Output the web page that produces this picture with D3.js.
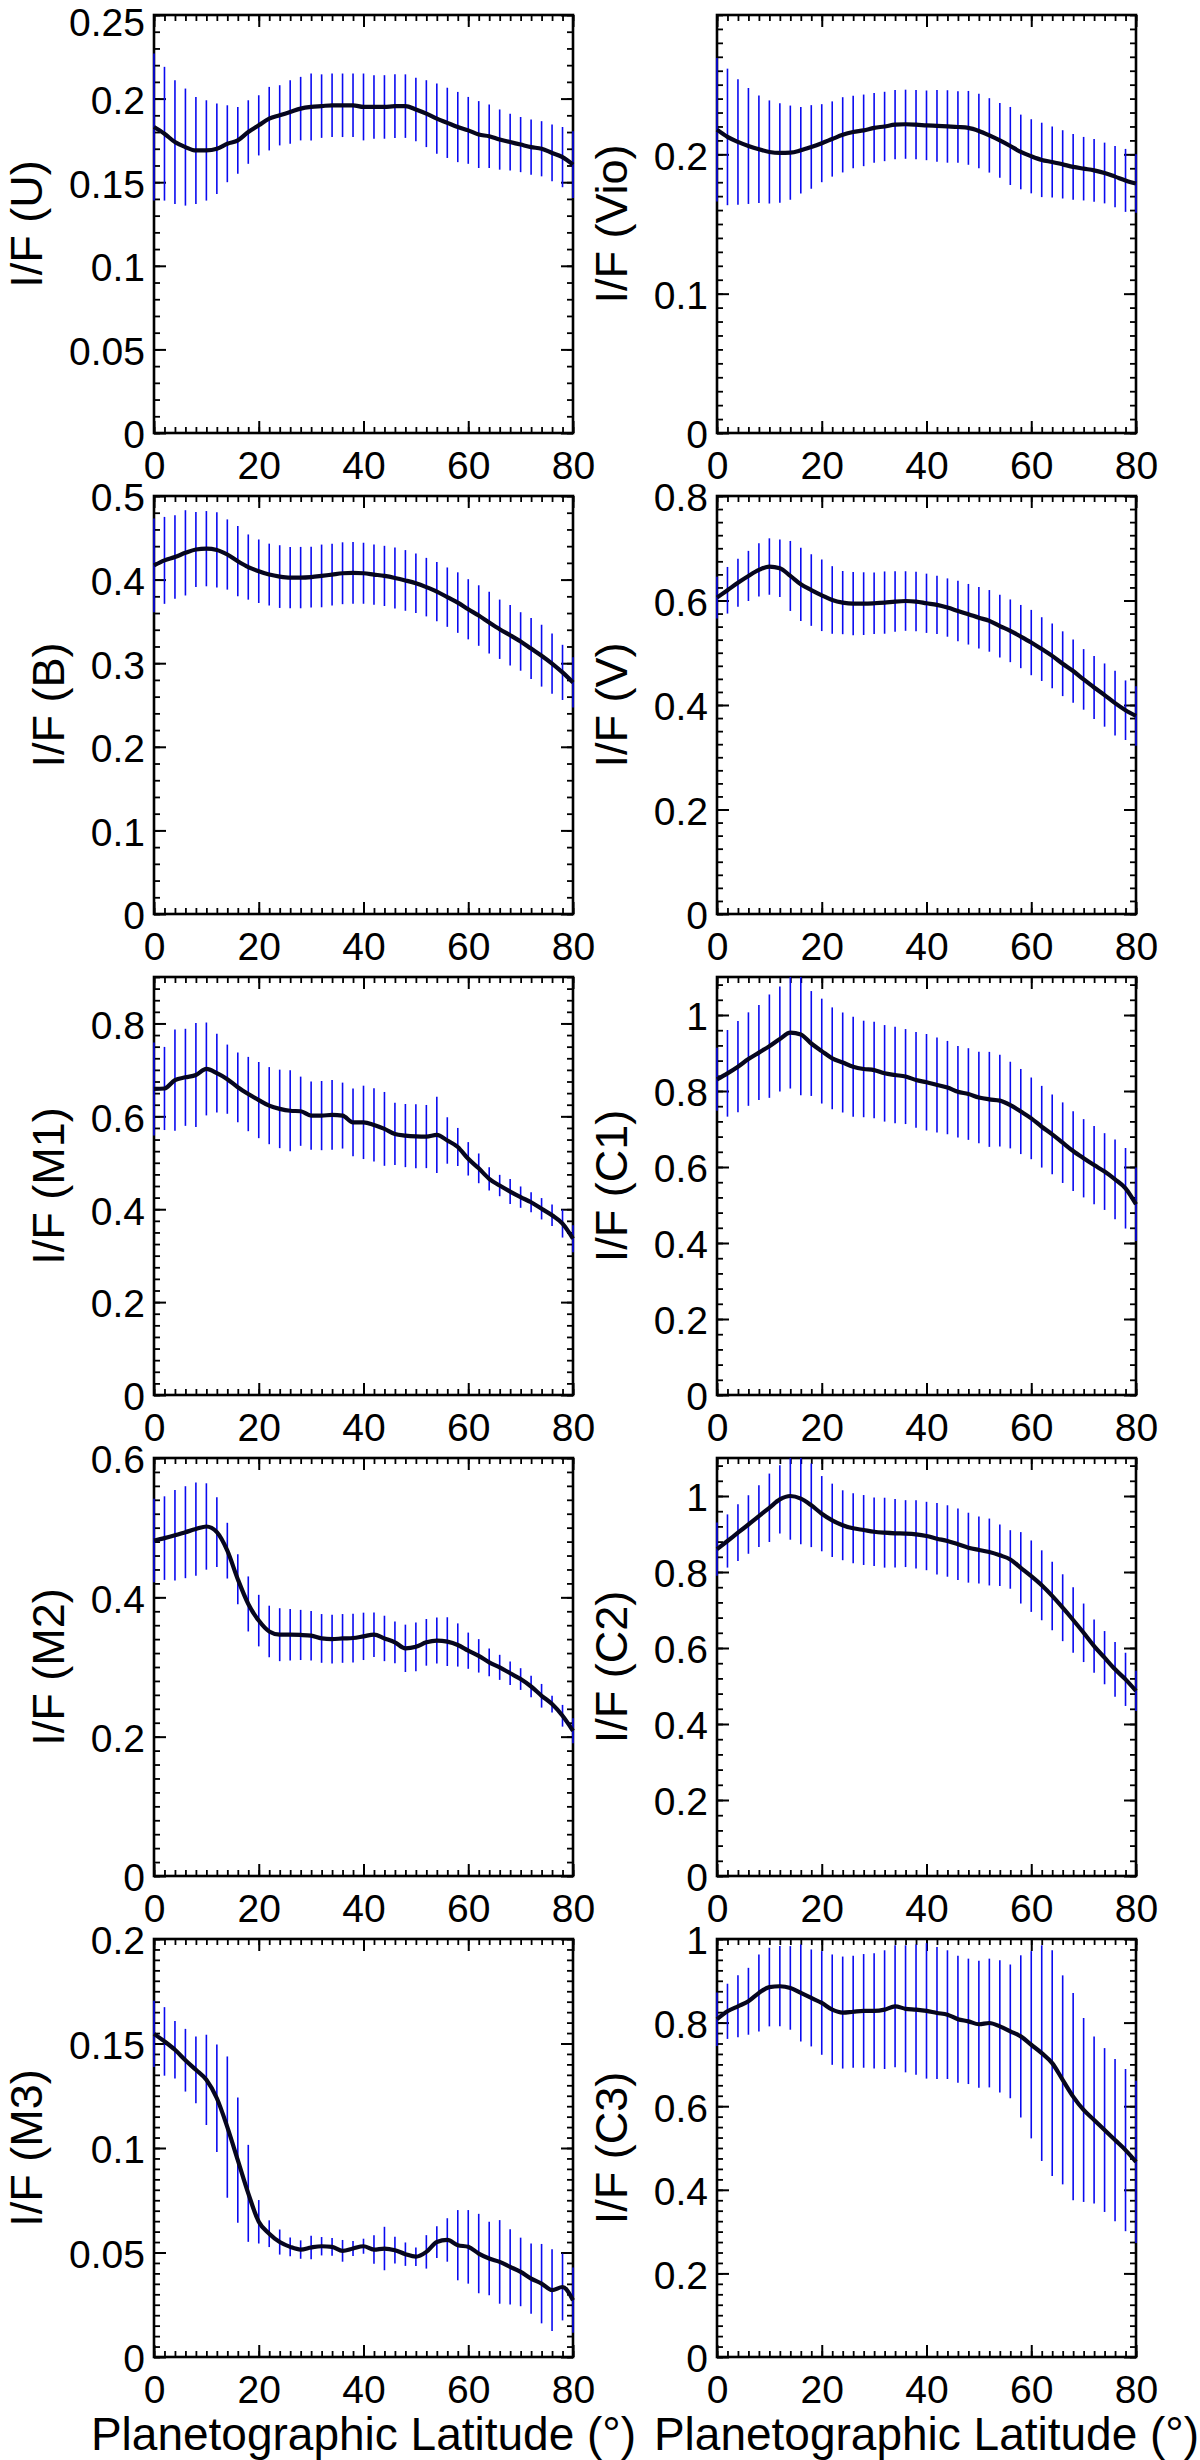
<!DOCTYPE html>
<html>
<head>
<meta charset="utf-8">
<script src="https://cdn.jsdelivr.net/npm/d3@7"></script>
<style>
  body { margin: 0; background: #fff; }
  text { font-family: "Liberation Sans", Arial, Helvetica, sans-serif; fill: #000; }
</style>
</head>
<body>
<svg id="chart"></svg>
<script>
// Latitudes of the profile samples / error bars (degrees)
var latitudes = [0, 2, 4, 6, 8, 10, 12, 14, 16, 18, 20, 22, 24, 26, 28, 30, 32, 34, 36, 38, 40,
  42, 44, 46, 48, 50, 52, 54, 56, 58, 60, 62, 64, 66, 68, 70, 72, 74, 76, 78, 80];

// I/F means and 1-sigma spreads
var uMean = [0.183, 0.179, 0.174, 0.171, 0.169, 0.169, 0.170, 0.173, 0.175, 0.180, 0.184, 0.188, 0.190, 0.192, 0.194, 0.195, 0.1955, 0.196, 0.196, 0.196, 0.195,
  0.195, 0.195, 0.1955, 0.1955, 0.1935, 0.191, 0.188, 0.1855, 0.183, 0.181, 0.1785, 0.1775, 0.1755, 0.174, 0.1725, 0.171, 0.170, 0.1675, 0.165, 0.1605];
var uErr = [0.044, 0.040, 0.037, 0.035, 0.032, 0.030, 0.027, 0.023, 0.020, 0.019, 0.018, 0.019, 0.018, 0.019, 0.019, 0.020, 0.019, 0.019, 0.019, 0.019, 0.020,
  0.019, 0.019, 0.019, 0.019, 0.019, 0.020, 0.021, 0.021, 0.021, 0.020, 0.020, 0.019, 0.018, 0.017, 0.0165, 0.0165, 0.0165, 0.017, 0.018, 0.020];

var vioMean = [0.2177, 0.2125, 0.2089, 0.206, 0.2036, 0.2017, 0.201, 0.2012, 0.2029, 0.2053, 0.208, 0.211, 0.214, 0.216, 0.2172, 0.219, 0.220, 0.2213, 0.2216, 0.2213, 0.2208,
  0.2204, 0.220, 0.2196, 0.219, 0.2168, 0.2136, 0.210, 0.206, 0.2017, 0.1986, 0.196, 0.1945, 0.1928, 0.191, 0.1897, 0.1885, 0.1866, 0.184, 0.1813, 0.179];
var vioErr = [0.0515, 0.049, 0.045, 0.0416, 0.0386, 0.037, 0.0357, 0.0338, 0.031, 0.030, 0.028, 0.027, 0.027, 0.026, 0.0257, 0.025, 0.0249, 0.0249, 0.0248, 0.0249, 0.025,
  0.0257, 0.026, 0.0257, 0.0265, 0.0267, 0.0267, 0.0268, 0.028, 0.0268, 0.0266, 0.0267, 0.0255, 0.0245, 0.0236, 0.0228, 0.0225, 0.0218, 0.0219, 0.0226, 0.021];

var bMean = [0.417, 0.423, 0.427, 0.432, 0.436, 0.437, 0.4355, 0.430, 0.422, 0.415, 0.410, 0.406, 0.4036, 0.4024, 0.4024, 0.403, 0.4044, 0.406, 0.4076, 0.408, 0.4076,
  0.406, 0.4044, 0.402, 0.399, 0.3956, 0.391, 0.3857, 0.379, 0.3725, 0.3645, 0.357, 0.3486, 0.3406, 0.3335, 0.326, 0.3175, 0.309, 0.2996, 0.289, 0.277];
var bErr = [0.056, 0.052, 0.050, 0.051, 0.045, 0.045, 0.045, 0.042, 0.042, 0.039, 0.038, 0.037, 0.0375, 0.0367, 0.0367, 0.0363, 0.0375, 0.037, 0.037, 0.037, 0.0365,
  0.036, 0.036, 0.0365, 0.0363, 0.0355, 0.035, 0.0355, 0.0355, 0.0362, 0.036, 0.0362, 0.037, 0.0355, 0.0362, 0.035, 0.0365, 0.037, 0.036, 0.033, 0.030];

var vMean = [0.6056, 0.6196, 0.634, 0.647, 0.6585, 0.665, 0.6617, 0.647, 0.631, 0.620, 0.610, 0.601, 0.596, 0.594, 0.594, 0.5947, 0.596, 0.598, 0.599, 0.598, 0.5947,
  0.5916, 0.5865, 0.580, 0.5737, 0.567, 0.561, 0.551, 0.542, 0.531, 0.5195, 0.507, 0.494, 0.479, 0.465, 0.449, 0.4335, 0.419, 0.4035, 0.390, 0.379];
var vErr = [0.040, 0.0446, 0.046, 0.048, 0.051, 0.054, 0.055, 0.067, 0.070, 0.0685, 0.0685, 0.0647, 0.0605, 0.0605, 0.060, 0.059, 0.0596, 0.058, 0.057, 0.057, 0.0567,
  0.0558, 0.0558, 0.058, 0.058, 0.059, 0.059, 0.060, 0.060, 0.0605, 0.0625, 0.061, 0.062, 0.062, 0.0605, 0.058, 0.0605, 0.0605, 0.062, 0.057, 0.057];

var m1Mean = [0.659, 0.660, 0.678, 0.684, 0.689, 0.702, 0.693, 0.680, 0.6625, 0.648, 0.635, 0.623, 0.616, 0.612, 0.611, 0.6016, 0.6016, 0.603, 0.6016, 0.587, 0.587,
  0.5815, 0.573, 0.562, 0.5586, 0.557, 0.5565, 0.560, 0.548, 0.534, 0.5085, 0.488, 0.4655, 0.451, 0.438, 0.426, 0.415, 0.401, 0.387, 0.369, 0.3366];
var m1Err = [0.100, 0.0895, 0.109, 0.1045, 0.112, 0.100, 0.085, 0.0745, 0.075, 0.080, 0.082, 0.083, 0.0845, 0.087, 0.0745, 0.0734, 0.0745, 0.075, 0.071, 0.0727, 0.079,
  0.079, 0.0795, 0.067, 0.068, 0.0688, 0.068, 0.082, 0.050, 0.041, 0.036, 0.032, 0.025, 0.023, 0.027, 0.023, 0.0215, 0.023, 0.023, 0.030, 0.029];

var c1Mean = [0.8307, 0.8465, 0.864, 0.884, 0.901, 0.918, 0.937, 0.9535, 0.949, 0.925, 0.905, 0.886, 0.875, 0.864, 0.858, 0.855, 0.8465, 0.842, 0.838, 0.829, 0.823,
  0.816, 0.809, 0.798, 0.792, 0.783, 0.778, 0.7746, 0.763, 0.746, 0.728, 0.706, 0.686, 0.664, 0.642, 0.623, 0.605, 0.588, 0.5675, 0.544, 0.502];
var c1Err = [0.083, 0.114, 0.12, 0.123, 0.125, 0.136, 0.138, 0.147, 0.16, 0.138, 0.138, 0.134, 0.1316, 0.1316, 0.127, 0.127, 0.127, 0.127, 0.125, 0.126, 0.127,
  0.125, 0.1228, 0.1206, 0.1206, 0.1206, 0.125, 0.1206, 0.114, 0.112, 0.1075, 0.1075, 0.105, 0.106, 0.105, 0.103, 0.103, 0.101, 0.105, 0.106, 0.0965];

var m2Mean = [0.4815, 0.485, 0.489, 0.4935, 0.498, 0.5017, 0.4935, 0.467, 0.426, 0.3905, 0.3666, 0.351, 0.3464, 0.3464, 0.346, 0.345, 0.341, 0.340, 0.341, 0.3416, 0.344,
  0.3464, 0.341, 0.3354, 0.3268, 0.329, 0.3354, 0.338, 0.3364, 0.3316, 0.3234, 0.316, 0.3067, 0.2995, 0.291, 0.2827, 0.272, 0.2587, 0.2468, 0.230, 0.2084];
var m2Err = [0.060, 0.060, 0.065, 0.066, 0.067, 0.062, 0.050, 0.040, 0.036, 0.0395, 0.037, 0.037, 0.038, 0.037, 0.036, 0.0355, 0.035, 0.035, 0.035, 0.035, 0.034,
  0.032, 0.0326, 0.030, 0.034, 0.035, 0.0335, 0.033, 0.035, 0.031, 0.026, 0.024, 0.020, 0.018, 0.017, 0.0156, 0.0156, 0.017, 0.012, 0.0156, 0.018];

var c2Mean = [0.86, 0.8816, 0.9035, 0.925, 0.947, 0.969, 0.991, 1.0, 0.993, 0.9755, 0.9535, 0.936, 0.923, 0.915, 0.9105, 0.906, 0.9035, 0.9018, 0.901, 0.899, 0.8947,
  0.8877, 0.8816, 0.873, 0.864, 0.858, 0.8526, 0.844, 0.833, 0.811, 0.789, 0.765, 0.737, 0.706, 0.6737, 0.640, 0.605, 0.5746, 0.544, 0.5175, 0.487];
var c2Err = [0.070, 0.070, 0.0745, 0.077, 0.081, 0.09, 0.09, 0.115, 0.12, 0.11, 0.099, 0.0965, 0.092, 0.092, 0.092, 0.09, 0.092, 0.09, 0.088, 0.09, 0.09,
  0.094, 0.094, 0.094, 0.092, 0.088, 0.088, 0.081, 0.077, 0.094, 0.094, 0.092, 0.09, 0.088, 0.086, 0.077, 0.070, 0.070, 0.072, 0.070, 0.053];

var m3Mean = [0.1546, 0.151, 0.147, 0.142, 0.1374, 0.1326, 0.1238, 0.110, 0.0942, 0.0783, 0.0647, 0.059, 0.055, 0.0527, 0.0514, 0.0524, 0.053, 0.0527, 0.0508, 0.0519, 0.053,
  0.0514, 0.0519, 0.0511, 0.0492, 0.048, 0.0503, 0.055, 0.056, 0.0535, 0.0527, 0.0495, 0.0471, 0.0455, 0.0431, 0.0407, 0.0375, 0.0351, 0.032, 0.0335, 0.0272];
var m3Err = [0.0158, 0.0164, 0.0138, 0.015, 0.016, 0.0216, 0.0257, 0.0338, 0.030, 0.0232, 0.0104, 0.0064, 0.006, 0.0045, 0.0044, 0.0056, 0.0044, 0.0042, 0.0052, 0.0036, 0.0036,
  0.0068, 0.0104, 0.0064, 0.0056, 0.0044, 0.008, 0.0076, 0.0104, 0.0168, 0.0176, 0.019, 0.0176, 0.020, 0.018, 0.0164, 0.0168, 0.019, 0.0196, 0.016, 0.0156];

var c3Mean = [0.808, 0.827, 0.839, 0.851, 0.871, 0.885, 0.887, 0.883, 0.871, 0.859, 0.847, 0.831, 0.824, 0.826, 0.828, 0.828, 0.831, 0.839, 0.833, 0.831, 0.828,
  0.823, 0.819, 0.808, 0.803, 0.796, 0.799, 0.791, 0.779, 0.767, 0.747, 0.727, 0.703, 0.663, 0.623, 0.591, 0.567, 0.543, 0.519, 0.495, 0.467];
var c3Err = [0.064, 0.066, 0.074, 0.080, 0.092, 0.094, 0.096, 0.10, 0.116, 0.116, 0.124, 0.132, 0.134, 0.134, 0.136, 0.138, 0.142, 0.146, 0.152, 0.156, 0.162,
  0.158, 0.154, 0.152, 0.150, 0.152, 0.154, 0.158, 0.16, 0.194, 0.224, 0.258, 0.27, 0.25, 0.248, 0.22, 0.20, 0.196, 0.194, 0.194, 0.194];

// Panel order: left column then right column, row by row
var filterNames = ['U', 'Vio', 'B', 'V', 'M1', 'C1', 'M2', 'C2', 'M3', 'C3'];
var panelMeans = [uMean, vioMean, bMean, vMean, m1Mean, c1Mean, m2Mean, c2Mean, m3Mean, c3Mean];
var panelErrs = [uErr, vioErr, bErr, vErr, m1Err, c1Err, m2Err, c2Err, m3Err, c3Err];

// y axis ranges, labelled ticks and minor tick step per panel
var yMaxes = [0.25, 0.3, 0.5, 0.8, 0.9, 1.1, 0.6, 1.1, 0.2, 1];
var yTickLabels = [
  [0, 0.05, 0.1, 0.15, 0.2, 0.25],
  [0, 0.1, 0.2],
  [0, 0.1, 0.2, 0.3, 0.4, 0.5],
  [0, 0.2, 0.4, 0.6, 0.8],
  [0, 0.2, 0.4, 0.6, 0.8],
  [0, 0.2, 0.4, 0.6, 0.8, 1],
  [0, 0.2, 0.4, 0.6],
  [0, 0.2, 0.4, 0.6, 0.8, 1],
  [0, 0.05, 0.1, 0.15, 0.2],
  [0, 0.2, 0.4, 0.6, 0.8, 1]
];
var yMinorSteps = [0.01, 0.01, 0.02, 0.025, 0.025, 0.04, 0.02, 0.04, 0.005, 0.025];
var xTickLabels = [0, 20, 40, 60, 80];
var xMinorStep = 2;
var xTitle = 'Planetographic Latitude (\u00b0)';

// Layout
var width = 1200, height = 2460;
var colLeft = [154, 717];
var rowTop = [15, 496, 977, 1458, 1939];
var plotW = 419, plotH = 418;

var svg = d3.select('#chart')
  .attr('width', width)
  .attr('height', height)
  .style('background', '#fff');

var fmt = function(d) { return String(+d.toFixed(4)); };

var minorRange = function(max, step) {
  var out = [];
  for (var i = 0; i * step <= max + 1e-9; i++) out.push(Math.round(i * step * 1e6) / 1e6);
  return out;
};

var styleAxis = function(sel, w) {
  sel.select('.domain').remove();
  sel.selectAll('.tick line').attr('stroke', '#000').attr('stroke-width', w);
  sel.selectAll('.tick text').style('font-size', '39px').attr('fill', '#000');
};

var drawPanel = function(i) {
  var col = i % 2, row = Math.floor(i / 2);
  var left = colLeft[col], top = rowTop[row];
  var bottom = top + plotH, right = left + plotW;

  var x = d3.scaleLinear().domain([0, 80]).range([left, right]);
  var y = d3.scaleLinear().domain([0, yMaxes[i]]).range([bottom, top]);
  var xMinor = minorRange(80, xMinorStep);
  var yMinor = minorRange(yMaxes[i], yMinorSteps[i]);

  var g = svg.append('g');

  // minor ticks, all four sides, pointing inward
  g.append('g').attr('transform', 'translate(0,' + bottom + ')')
    .call(d3.axisBottom(x).tickValues(xMinor).tickSize(-6).tickFormat(''))
    .call(styleAxis, 1.8);
  g.append('g').attr('transform', 'translate(0,' + top + ')')
    .call(d3.axisTop(x).tickValues(xMinor).tickSize(-6).tickFormat(''))
    .call(styleAxis, 1.8);
  g.append('g').attr('transform', 'translate(' + left + ',0)')
    .call(d3.axisLeft(y).tickValues(yMinor).tickSize(-6).tickFormat(''))
    .call(styleAxis, 1.8);
  g.append('g').attr('transform', 'translate(' + right + ',0)')
    .call(d3.axisRight(y).tickValues(yMinor).tickSize(-6).tickFormat(''))
    .call(styleAxis, 1.8);

  // major ticks with labels on bottom and left
  g.append('g').attr('transform', 'translate(0,' + bottom + ')')
    .call(d3.axisBottom(x).tickValues(xTickLabels).tickSize(-12).tickPadding(18).tickFormat(fmt))
    .call(styleAxis, 2);
  g.append('g').attr('transform', 'translate(0,' + top + ')')
    .call(d3.axisTop(x).tickValues(xTickLabels).tickSize(-12).tickFormat(''))
    .call(styleAxis, 2);
  var yAx = g.append('g').attr('transform', 'translate(' + left + ',0)')
    .call(d3.axisLeft(y).tickValues(yTickLabels[i]).tickSize(-12).tickPadding(9).tickFormat(fmt))
    .call(styleAxis, 2);
  yAx.selectAll('.tick text').attr('dy', '0.38em');
  // keep a label that sits at the very top of the page inside it
  yAx.selectAll('.tick').each(function(d) {
    var t = d3.select(this).select('text');
    var over = y(d) + t.node().getBBox().y;
    if (over < 0) t.attr('y', -over);
  });
  g.append('g').attr('transform', 'translate(' + right + ',0)')
    .call(d3.axisRight(y).tickValues(yTickLabels[i]).tickSize(-12).tickFormat(''))
    .call(styleAxis, 2);

  // frame
  g.append('rect')
    .attr('x', left).attr('y', top)
    .attr('width', plotW).attr('height', plotH)
    .attr('fill', 'none').attr('stroke', '#000').attr('stroke-width', 2.6);

  // clip marks to the plot box
  var clipId = 'clip' + i;
  svg.append('clipPath').attr('id', clipId).append('rect')
    .attr('x', left - 2).attr('y', top)
    .attr('width', plotW + 4).attr('height', plotH);

  var means = panelMeans[i], errs = panelErrs[i];
  var pts = latitudes.map(function(lat, k) {
    return { lat: lat, v: means[k], e: errs[k] };
  });

  var marks = g.append('g').attr('clip-path', 'url(#' + clipId + ')');

  marks.selectAll('line.err')
    .data(pts)
    .enter().append('line')
    .attr('class', 'err')
    .attr('x1', function(d) { return x(d.lat); })
    .attr('x2', function(d) { return x(d.lat); })
    .attr('y1', function(d) { return y(d.v - d.e); })
    .attr('y2', function(d) { return y(d.v + d.e); })
    .attr('stroke', '#0a0af0')
    .attr('stroke-width', 1.6);

  var line = d3.line()
    .x(function(d) { return x(d.lat); })
    .y(function(d) { return y(d.v); })
    .curve(d3.curveMonotoneX);

  marks.append('path')
    .datum(pts)
    .attr('d', line)
    .attr('fill', 'none')
    .attr('stroke', '#06061e')
    .attr('stroke-width', 4.2)
    .attr('stroke-linejoin', 'round');

  // y title placed left of the widest tick label, like IDL does
  var labelLeft = d3.min(yAx.selectAll('.tick text').nodes(), function(n) {
    return n.getBBox().x;
  }) + left;
  svg.append('text')
    .attr('transform', 'translate(' + (labelLeft - 27) + ',' + (top + plotH / 2) + ') rotate(-90)')
    .attr('text-anchor', 'middle')
    .style('font-size', '45px')
    .text('I/F (' + filterNames[i] + ')');

  // x title only under bottom row
  if (row === rowTop.length - 1) {
    svg.append('text')
      .attr('x', (left + right) / 2)
      .attr('y', 2450)
      .attr('text-anchor', 'middle')
      .style('font-size', '46px')
      .text(xTitle);
  }
};

filterNames.forEach(function(name, i) {
  drawPanel(i);
});
</script>
</body>
</html>
